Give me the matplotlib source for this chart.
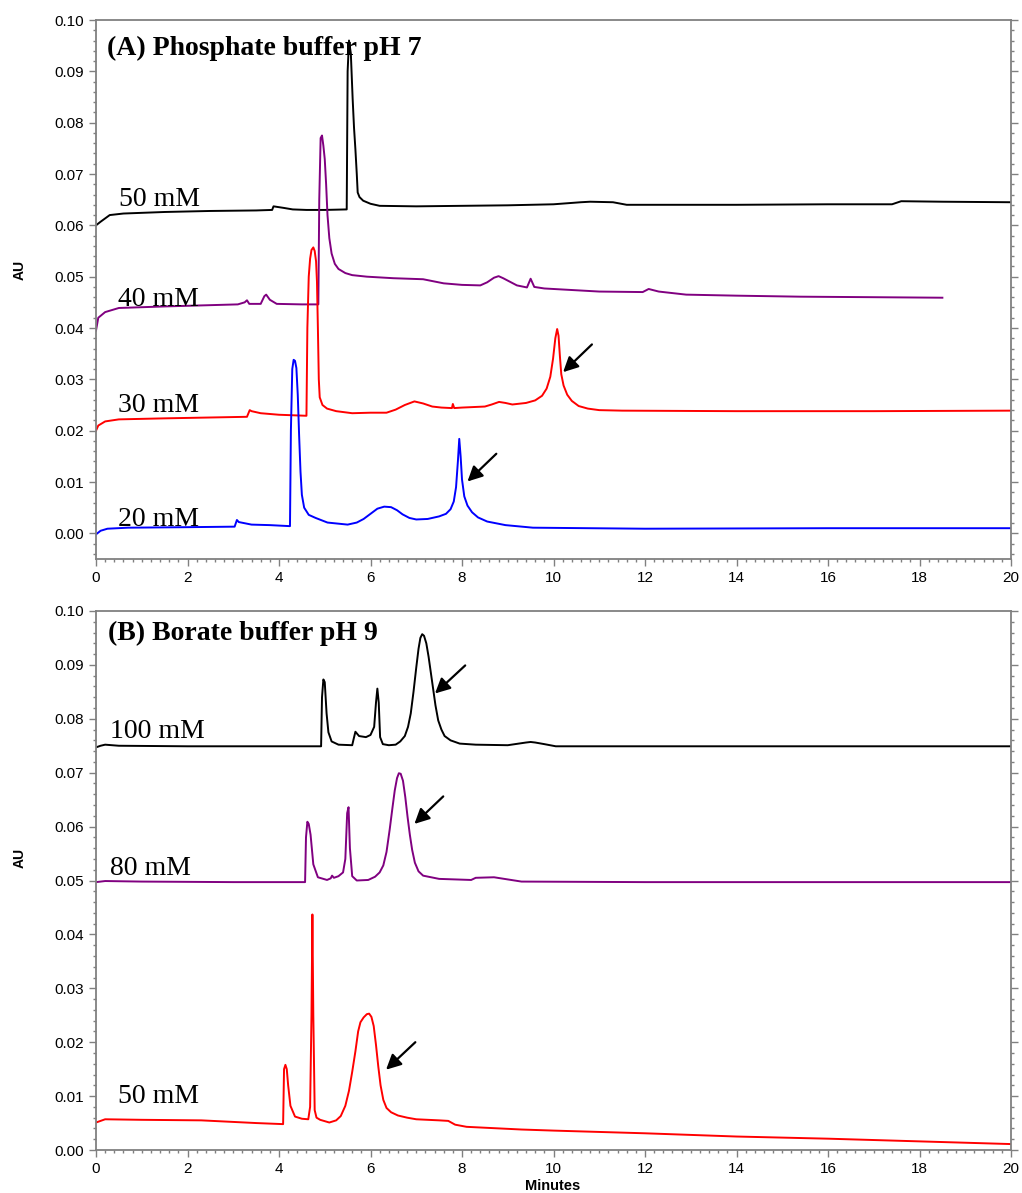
import matplotlib
matplotlib.use("Agg")
import matplotlib.pyplot as plt
from matplotlib.ticker import MultipleLocator

# ---- (A) phosphate buffer pH 7 ----
a50_t = [0, 0.1, 0.3, 0.6, 1.5, 2.5, 3.5, 3.85, 3.88, 4.1, 4.3, 4.6, 5.0, 5.48,
         5.5, 5.53, 5.57, 5.61, 5.64, 5.67, 5.70, 5.72, 5.76, 5.84, 6.0, 6.2, 7.0,
         8.0, 9.0, 10.0, 10.6, 10.8, 11.3, 11.6, 12.5, 14, 16, 17.4, 17.6, 18.5, 20]
a50_y = [0.0600, 0.0607, 0.0620, 0.0623, 0.0626, 0.0628, 0.0629, 0.0630, 0.0637,
         0.0634, 0.0631, 0.0630, 0.0630, 0.0631, 0.0900, 0.0960, 0.0935, 0.0846,
         0.0790, 0.0748, 0.0700, 0.0664, 0.0655, 0.0648, 0.0642, 0.0638, 0.0637,
         0.0638, 0.0639, 0.0641, 0.0645, 0.0646, 0.0645, 0.0640, 0.0640, 0.0640,
         0.0641, 0.0641, 0.0647, 0.0646, 0.0645]

a40_t = [0, 0.05, 0.2, 0.5, 1.5, 3.1, 3.25, 3.3, 3.35, 3.6, 3.68, 3.72, 3.8, 3.95,
         4.5, 4.86, 4.88, 4.91, 4.94, 4.97, 5.0, 5.03, 5.06, 5.1, 5.15, 5.22, 5.3,
         5.45, 5.6, 5.92, 6.5, 7.15, 7.6, 8.0, 8.4, 8.55, 8.7, 8.8, 8.9, 9.05, 9.2,
         9.42, 9.5, 9.58, 9.8, 11.0, 11.95, 12.08, 12.3, 12.9, 14, 15.4, 17, 18.5]
a40_y = [0.0395, 0.0420, 0.0431, 0.0439, 0.0442, 0.0446, 0.0450, 0.0454, 0.0447,
         0.0447, 0.0462, 0.0465, 0.0455, 0.0447, 0.0446, 0.0446, 0.0650, 0.0770,
         0.0775, 0.0755, 0.0729, 0.0680, 0.0620, 0.0575, 0.0545, 0.0525, 0.0515,
         0.0507, 0.0503, 0.0500, 0.0497, 0.0495, 0.0487, 0.0484, 0.0483, 0.0489,
         0.0498, 0.0501, 0.0497, 0.0490, 0.0483, 0.0479, 0.0496, 0.0480, 0.0477,
         0.0471, 0.0470, 0.0476, 0.0471, 0.0465, 0.0463, 0.0461, 0.0460, 0.0459]

a30_t = [0, 0.05, 0.2, 0.5, 1.5, 3.3, 3.36, 3.4, 3.6, 4.0, 4.6, 4.62, 4.65, 4.68,
         4.71, 4.75, 4.78, 4.81, 4.83, 4.85, 4.87, 4.89, 4.95, 5.05, 5.25, 5.6, 6.0,
         6.35, 6.55, 6.75, 6.96, 7.15, 7.35, 7.55, 7.78, 7.8, 7.83, 8.0, 8.5, 8.65,
         8.81, 8.95, 9.1, 9.4, 9.6, 9.75, 9.85, 9.93, 9.99, 10.04, 10.08, 10.11,
         10.14, 10.17, 10.22, 10.3, 10.4, 10.55, 10.75, 11.0, 11.5, 14, 17, 20]
a30_y = [0.0200, 0.0210, 0.0218, 0.0222, 0.0224, 0.0227, 0.0240, 0.0238, 0.0234,
         0.0231, 0.0229, 0.0400, 0.0500, 0.0535, 0.0552, 0.0557, 0.0550, 0.0530,
         0.0490, 0.0400, 0.0300, 0.0265, 0.0250, 0.0243, 0.0238, 0.0234, 0.0235,
         0.0235, 0.0241, 0.0250, 0.0257, 0.0253, 0.0247, 0.0245, 0.0244, 0.0252,
         0.0244, 0.0245, 0.0247, 0.0251, 0.0256, 0.0254, 0.0251, 0.0254, 0.0259,
         0.0268, 0.0282, 0.0305, 0.0340, 0.0380, 0.0398, 0.0385, 0.0345, 0.0310,
         0.0288, 0.0270, 0.0258, 0.0248, 0.0243, 0.0240, 0.0239, 0.0238, 0.0238,
         0.0239]

a20_t = [0, 0.1, 0.25, 0.7, 2, 3.03, 3.08, 3.12, 3.4, 3.8, 4.24, 4.26, 4.29, 4.32,
         4.35, 4.38, 4.41, 4.44, 4.47, 4.50, 4.55, 4.65, 4.8, 5.06, 5.5, 5.7, 5.85,
         6.0, 6.15, 6.3, 6.45, 6.58, 6.7, 6.85, 7.0, 7.25, 7.5, 7.65, 7.75, 7.82,
         7.87, 7.91, 7.94, 7.97, 8.0, 8.05, 8.12, 8.22, 8.35, 8.55, 8.95, 9.55, 12,
         16, 20]
a20_y = [-0.0002, 0.0005, 0.0009, 0.0011, 0.0012, 0.0013, 0.0026, 0.0022, 0.0017,
         0.0016, 0.0014, 0.0200, 0.0320, 0.0338, 0.0336, 0.0322, 0.0270, 0.0190,
         0.0120, 0.0075, 0.0050, 0.0036, 0.0030, 0.0021, 0.0017, 0.0021, 0.0028,
         0.0038, 0.0048, 0.0052, 0.0051, 0.0045, 0.0037, 0.0030, 0.0027, 0.0028,
         0.0033, 0.0038, 0.0047, 0.0062, 0.0090, 0.0140, 0.0184, 0.0150, 0.0105,
         0.0072, 0.0054, 0.0041, 0.0031, 0.0023, 0.0016, 0.0011, 0.0009, 0.0010,
         0.0010]

# ---- (B) borate buffer pH 9 ----
b100_t = [0, 0.1, 0.2, 0.5, 2, 4, 4.92, 4.94, 4.97, 5.0, 5.04, 5.08, 5.15, 5.3,
          5.6, 5.63, 5.67, 5.75, 5.9, 6.0, 6.08, 6.12, 6.15, 6.18, 6.21, 6.27,
          6.4, 6.55, 6.65, 6.75, 6.82, 6.88, 6.94, 7.0, 7.05, 7.09, 7.13, 7.17,
          7.22, 7.27, 7.32, 7.37, 7.42, 7.48, 7.55, 7.62, 7.75, 7.95, 8.3, 9.0,
          9.4, 9.5, 9.6, 9.8, 10.05, 12, 16, 20]
b100_y = [0.0747, 0.0750, 0.0752, 0.0750, 0.0749, 0.0749, 0.0749, 0.0840, 0.0873,
          0.0868, 0.0810, 0.0775, 0.0758, 0.0752, 0.0751, 0.0762, 0.0776, 0.0768,
          0.0766, 0.0770, 0.0785, 0.0830, 0.0856, 0.0830, 0.0766, 0.0753, 0.0751,
          0.0752, 0.0758, 0.0768, 0.0785, 0.0810, 0.0850, 0.0895, 0.0930, 0.0950,
          0.0957, 0.0954, 0.0940, 0.0915, 0.0885, 0.0855, 0.0825, 0.0797, 0.0780,
          0.0768, 0.0760, 0.0754, 0.0752, 0.0751, 0.0756, 0.0757, 0.0756, 0.0753,
          0.0749, 0.0749, 0.0749, 0.0749]

b80_t = [0, 0.2, 1, 3, 4.57, 4.59, 4.62, 4.65, 4.69, 4.75, 4.85, 5.05, 5.13, 5.16,
         5.2, 5.3, 5.4, 5.45, 5.49, 5.52, 5.55, 5.6, 5.7, 5.95, 6.1, 6.2, 6.28,
         6.35, 6.42, 6.48, 6.53, 6.58, 6.62, 6.66, 6.71, 6.76, 6.81, 6.86, 6.91,
         6.97, 7.05, 7.15, 7.5, 8.2, 8.3, 8.7, 9.0, 9.3, 12, 16, 20]
b80_y = [0.0497, 0.0499, 0.0498, 0.0497, 0.0497, 0.0580, 0.0609, 0.0605, 0.0585,
         0.0530, 0.0506, 0.0501, 0.0504, 0.0509, 0.0505, 0.0508, 0.0515, 0.0540,
         0.0625, 0.0636, 0.0560, 0.0508, 0.0500, 0.0501, 0.0507, 0.0515, 0.0528,
         0.0553, 0.0595, 0.0635, 0.0667, 0.0690, 0.0699, 0.0698, 0.0685, 0.0655,
         0.0618, 0.0585, 0.0557, 0.0533, 0.0517, 0.0509, 0.0503, 0.0501, 0.0505,
         0.0506, 0.0502, 0.0498, 0.0497, 0.0497, 0.0497]

b50_t = [0, 0.2, 1, 2.3, 3.5, 4.09, 4.11, 4.14, 4.17, 4.2, 4.25, 4.35, 4.5, 4.64,
         4.68, 4.71, 4.73, 4.75, 4.78, 4.82, 4.9, 5.1, 5.25, 5.35, 5.45, 5.53, 5.6,
         5.67, 5.73, 5.78, 5.85, 5.92, 5.97, 6.02, 6.07, 6.12, 6.17, 6.22, 6.28,
         6.35, 6.45, 6.6, 6.8, 7.0, 7.5, 7.7, 7.85, 8.1, 9.3, 10, 12, 14, 16, 18, 20]
b50_y = [0.0051, 0.0057, 0.0056, 0.0055, 0.0050, 0.0048, 0.0150, 0.0158, 0.0150,
         0.0120, 0.0082, 0.0062, 0.0058, 0.0057, 0.0080, 0.0250, 0.0437, 0.0250,
         0.0074, 0.0060, 0.0056, 0.0051, 0.0055, 0.0063, 0.0082, 0.0110, 0.0145,
         0.0183, 0.0220, 0.0237, 0.0246, 0.0252, 0.0253, 0.0247, 0.0230, 0.0195,
         0.0155, 0.0120, 0.0093, 0.0078, 0.0070, 0.0064, 0.0060, 0.0057, 0.0055,
         0.0054, 0.0047, 0.0043, 0.0038, 0.0036, 0.0031, 0.0025, 0.0021, 0.0016,
         0.0011]

# trace labels: (text, x, y)
a_labels = [("50 mM", 0.50, 0.0637), ("40 mM", 0.49, 0.0442),
            ("30 mM", 0.49, 0.0236), ("20 mM", 0.49, 0.0014)]
b_labels = [("100 mM", 0.30, 0.0764), ("80 mM", 0.30, 0.0510),
            ("50 mM", 0.47, 0.0088)]

# arrows: (tail x, tail y, head x, head y)
a_arrows = [(10.84, 0.0368, 10.21, 0.0314), (8.75, 0.0155, 8.12, 0.0101)]
b_arrows = [(8.07, 0.0899, 7.41, 0.0847), (7.59, 0.0656, 6.96, 0.0605),
            (6.98, 0.0200, 6.34, 0.0149)]

PURPLE = "#800080"
GRAY = "#808080"
SERIF = "Liberation Serif"
SANS = "Liberation Sans"

fig = plt.figure(figsize=(10.22, 11.93), dpi=100)
ax_a = fig.add_axes([96 / 1022, 1 - 559 / 1193, 915 / 1022, 539 / 1193])
ax_b = fig.add_axes([96 / 1022, 1 - 1150 / 1193, 915 / 1022, 539 / 1193])


def style_axes(ax, ylim):
    ax.set_xlim(0, 20)
    ax.set_ylim(*ylim)
    ax.xaxis.set_minor_locator(MultipleLocator(0.2))
    ax.yaxis.set_minor_locator(MultipleLocator(0.002))
    ax.set_yticks([v / 100 for v in range(0, 11)])
    ax.set_yticklabels([f"{v / 100:.2f}" for v in range(0, 11)])
    ax.set_xticks(range(0, 21, 2))
    ax.set_xticklabels([str(v) for v in range(0, 21, 2)])
    for s in ax.spines.values():
        s.set_color(GRAY)
        s.set_linewidth(1.3)
    ax.tick_params(which="both", direction="out", right=True, color=GRAY,
                   labelsize=11, width=1)
    ax.tick_params(which="major", length=5)
    ax.tick_params(which="minor", length=2.5)
    for lab in ax.get_xticklabels() + ax.get_yticklabels():
        lab.set_fontfamily(SANS)


def draw_arrows(ax, arrows):
    for x0, y0, x1, y1 in arrows:
        ax.annotate("", xy=(x1, y1), xytext=(x0, y0),
                    arrowprops=dict(arrowstyle="-|>,head_length=0.9,head_width=0.45",
                                    color="black", lw=1.6, shrinkA=0, shrinkB=0))


# panel A
ax_a.plot(a50_t, a50_y, color="black", lw=1.4)
ax_a.plot(a40_t, a40_y, color=PURPLE, lw=1.4)
ax_a.plot(a30_t, a30_y, color="red", lw=1.4)
ax_a.plot(a20_t, a20_y, color="blue", lw=1.4)
style_axes(ax_a, (-0.005, 0.10))
for txt, x, y in a_labels:
    ax_a.text(x, y, txt, fontsize=20, family=SERIF, va="baseline")
ax_a.text(0.24, 0.0932, "(A) Phosphate buffer pH 7", fontsize=20,
          family=SERIF, weight="bold", va="baseline")
draw_arrows(ax_a, a_arrows)

# panel B
ax_b.plot(b100_t, b100_y, color="black", lw=1.4)
ax_b.plot(b80_t, b80_y, color=PURPLE, lw=1.4)
ax_b.plot(b50_t, b50_y, color="red", lw=1.4)
style_axes(ax_b, (0.0, 0.10))
for txt, x, y in b_labels:
    ax_b.text(x, y, txt, fontsize=20, family=SERIF, va="baseline")
ax_b.text(0.26, 0.0946, "(B) Borate buffer pH 9", fontsize=20,
          family=SERIF, weight="bold", va="baseline")
draw_arrows(ax_b, b_arrows)

fig.text(20 / 1022, 1 - 270 / 1193, "AU", rotation=90, fontsize=10,
         weight="bold", family=SANS, ha="center", va="center")
fig.text(20 / 1022, 1 - 858 / 1193, "AU", rotation=90, fontsize=10,
         weight="bold", family=SANS, ha="center", va="center")
fig.text(553 / 1022, 1 - 1186 / 1193, "Minutes", fontsize=10.5,
         weight="bold", family=SANS, ha="center", va="center")

fig.savefig("out.png", dpi=100)
